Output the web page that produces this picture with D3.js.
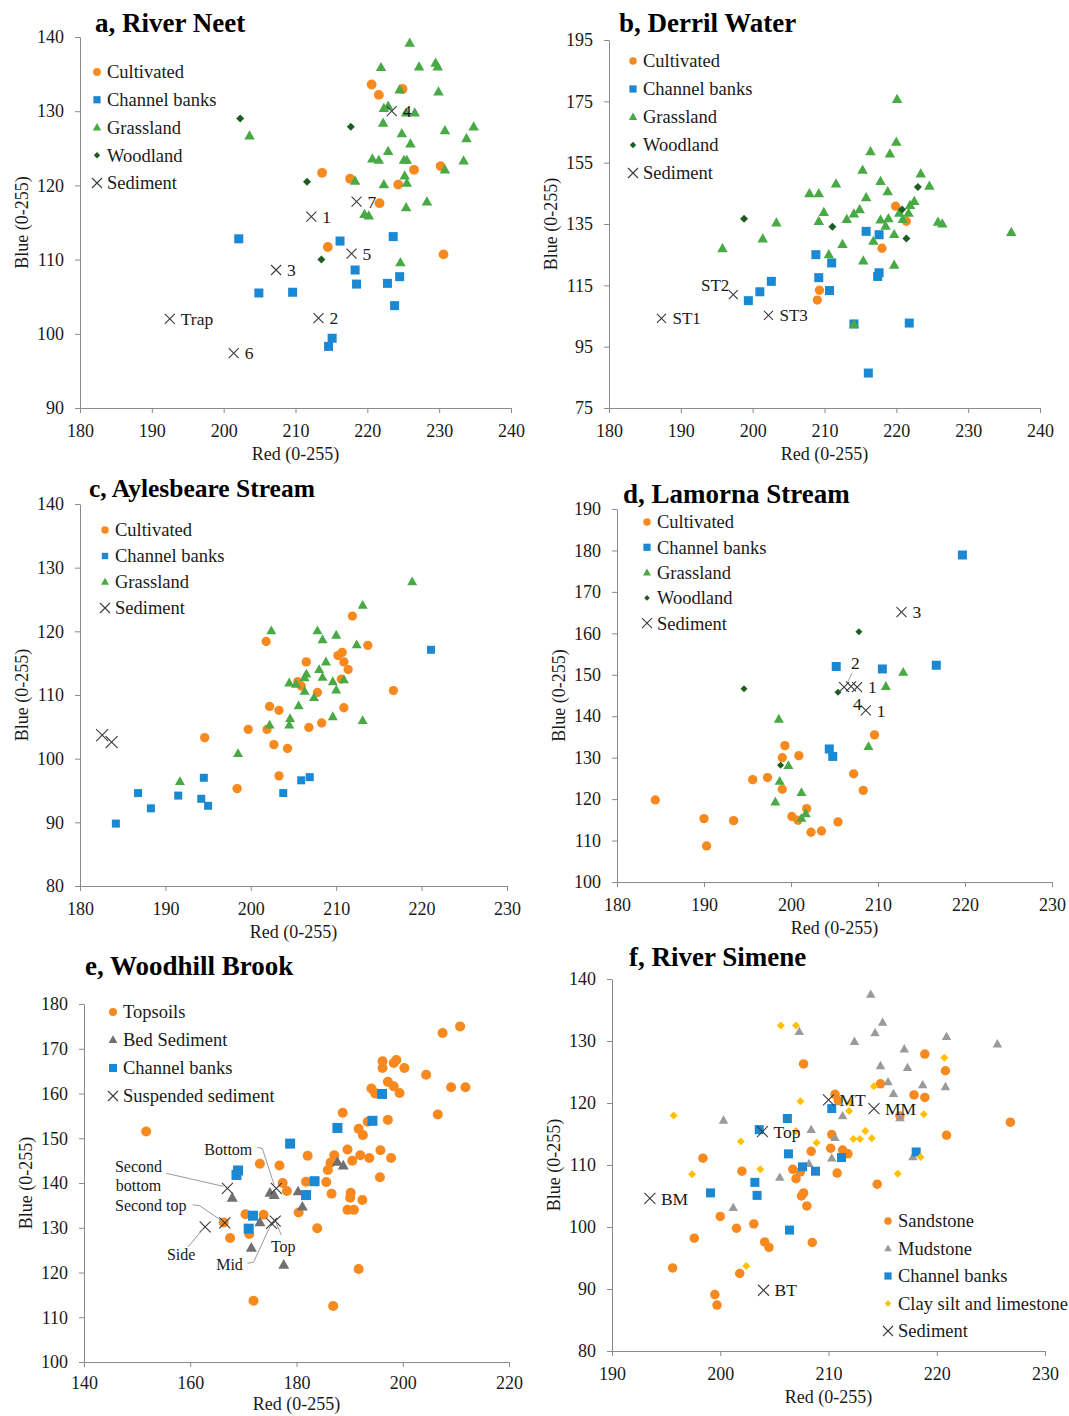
<!DOCTYPE html>
<html lang="en">
<head>
<meta charset="UTF-8">
<title>Red vs Blue colour of sources and sediment</title>
<script src="https://d3js.org/d3.v7.min.js"></script>
<style>
  body { margin: 0; background: #fff; }
  text { font-family: "Liberation Serif", "Times New Roman", serif; fill: #1a1a1a; }
  .title { font-weight: bold; font-size: 27px; fill: #000; }
  .tick text { font-size: 18px; fill: #1a1a1a; }
  .axis-title { font-size: 18px; }
  .legend text { font-size: 18.5px; }
  .lab { font-size: 17.5px; }
</style>
</head>
<body>
<div id="chart"></div>
<script>
// ---- a, River Neet : [red, blue] ----
var neetCultivated = [[220.6,133.6],[224.9,133.0],[221.6,132.2],[213.7,121.7],[217.6,120.9],[226.5,122.1],[230.2,122.6],[224.3,120.1],[221.7,117.6],[214.5,111.7],[230.6,110.7]];
var neetChannel = [[202.1,112.8],[216.2,112.5],[223.6,113.1],[218.3,108.6],[218.5,106.7],[222.8,106.8],[224.5,107.7],[204.9,105.5],[209.6,105.6],[223.8,103.8],[215.1,99.4],[214.6,98.3]];
var neetGrass = [[225.9,139.2],[221.9,135.9],[227.2,136.0],[229.5,136.5],[229.8,136.0],[224.5,132.9],[229.9,132.6],[222.3,130.4],[222.9,130.7],[225.4,129.8],[226.6,129.8],[222.2,128.4],[203.6,126.7],[224.8,127.0],[230.8,127.4],[234.8,127.9],[233.8,126.3],[226.0,125.6],[222.9,124.6],[220.7,123.6],[221.6,123.4],[225.1,123.4],[225.5,123.4],[233.4,123.3],[230.8,122.1],[225.2,121.3],[225.5,120.3],[218.3,120.6],[222.3,120.1],[228.3,117.8],[225.4,117.0],[219.6,116.1],[220.2,115.9],[224.6,109.6]];
var neetWood = [[202.3,129.0],[217.7,127.9],[211.6,120.5],[213.6,110.0]];
var neetSediment = [[223.4,130.0,"4"],[218.5,117.8,"7"],[212.2,115.8,"1"],[217.8,110.8,"5"],[207.3,108.6,"3"],[213.2,102.1,"2"],[192.5,102.0,"Trap"],[201.4,97.4,"6"]];

// ---- b, Derril Water ----
var derrilCultivated = [[219.9,140.8],[221.4,135.9],[218.0,127.1],[209.3,113.4],[209.0,110.2]];
var derrilChannel = [[215.8,132.6],[217.6,131.5],[208.8,125.0],[211.0,122.3],[209.2,117.5],[217.6,119.1],[217.4,117.9],[202.6,116.3],[201.0,112.9],[210.7,113.3],[199.4,110.0],[221.8,102.7],[214.1,102.4],[216.1,86.4]];
var derrilGrass = [[220.1,175.7],[220.0,161.7],[216.4,158.6],[219.1,157.9],[215.3,152.6],[223.4,151.4],[211.6,148.1],[224.6,147.4],[217.8,148.9],[207.9,144.9],[209.2,144.9],[218.8,145.6],[215.8,143.6],[222.5,142.4],[221.9,141.1],[214.9,139.7],[209.9,138.8],[214.1,138.3],[220.4,138.6],[221.7,138.6],[217.8,136.4],[218.9,136.8],[213.1,136.5],[209.2,135.9],[220.9,136.5],[218.5,134.3],[203.3,135.4],[225.8,135.6],[226.4,135.1],[236.0,132.3],[201.4,130.2],[216.8,129.4],[219.7,131.6],[212.5,128.4],[195.8,127.0],[210.6,125.0],[215.4,123.0],[219.7,121.6],[214.1,102.2]];
var derrilWood = [[198.8,136.7],[211.1,134.1],[220.8,139.7],[223.0,147.1],[221.4,130.3]];
var derrilSediment = [[197.3,112.0,"ST2"],[187.3,104.2,"ST1"],[202.2,105.2,"ST3"]];

// ---- c, Aylesbeare Stream ----
var aylCultivated = [[211.9,122.4],[201.8,118.4],[213.7,117.8],[210.2,116.2],[210.7,116.7],[206.5,115.2],[210.9,115.2],[211.4,114.0],[205.5,112.1],[205.9,111.4],[210.6,112.5],[207.8,110.4],[216.7,110.7],[202.2,108.2],[203.3,107.6],[210.9,108.0],[199.7,104.6],[201.9,104.6],[206.8,104.9],[208.3,105.6],[194.6,103.3],[202.7,102.2],[204.3,101.6],[203.3,97.3],[198.4,95.3]];
var aylChannel = [[221.1,117.1],[194.5,97.0],[206.9,97.1],[205.9,96.6],[186.8,94.6],[191.5,94.2],[203.8,94.6],[194.2,93.7],[195.0,92.6],[188.3,92.2],[184.2,89.8]];
var aylGrass = [[218.9,127.8],[213.1,124.1],[202.4,120.1],[207.8,120.1],[210.0,119.4],[208.4,118.7],[212.4,117.9],[208.8,115.2],[206.5,113.3],[208.0,114.0],[206.3,112.7],[208.4,112.8],[210.9,112.4],[204.5,111.9],[205.3,111.7],[209.6,112.1],[206.3,110.6],[210.0,110.8],[207.4,109.6],[205.6,108.3],[204.6,106.3],[204.5,105.3],[202.2,105.3],[209.6,106.6],[213.1,106.0],[198.5,100.8],[191.7,96.4]];
var aylSediment = [[182.6,103.7,""],[183.7,102.6,""]];

// ---- d, Lamorna Stream ----
var lamCultivated = [[184.4,119.8],[190.0,115.3],[193.4,114.8],[190.3,108.7],[195.6,124.7],[197.3,125.2],[199.3,132.9],[199.0,130.0],[200.9,130.5],[199.0,122.4],[201.8,117.7],[200.1,115.8],[200.8,114.9],[202.3,112.0],[203.5,112.3],[205.4,114.5],[207.2,126.1],[208.3,122.1],[209.6,135.5]];
var lamChannel = [[219.7,178.9],[205.2,152.0],[210.5,151.4],[216.7,152.3],[204.4,132.1],[204.8,130.3]];
var lamGrass = [[212.9,150.6],[210.9,147.2],[198.6,139.3],[208.9,132.7],[199.7,128.1],[198.7,124.3],[201.2,121.6],[198.2,119.3],[201.7,116.5],[201.2,115.4]];
var lamWood = [[207.8,160.4],[194.6,146.6],[205.4,145.8],[198.8,128.2]];
var lamSediment = [[212.7,165.1,"3"],[206.1,147.0,"4"],[206.9,147.2,"2"],[207.6,147.0,"1"],[208.6,141.4,"1"]];

// ---- e, Woodhill Brook ----
var woodTopsoil = [[210.8,175.0],[207.5,173.5],[196.2,167.2],[196.2,165.7],[198.3,166.8],[198.8,167.5],[200.3,165.7],[204.4,164.2],[197.2,162.6],[198.3,161.6],[199.4,160.1],[194.1,161.1],[194.8,160.0],[209.1,161.4],[211.8,161.4],[206.6,155.3],[188.7,155.7],[193.4,153.7],[197.2,154.1],[191.7,152.1],[192.5,150.7],[151.7,151.5],[189.6,147.5],[195.8,147.3],[197.8,145.6],[192.0,146.2],[193.7,145.6],[190.5,145.0],[182.1,146.1],[187.1,146.2],[186.4,144.5],[185.9,142.9],[173.1,144.3],[176.8,143.9],[195.7,141.3],[185.6,140.2],[181.8,140.3],[177.4,140.0],[178.2,138.2],[186.6,137.6],[190.2,137.8],[190.1,136.7],[192.4,136.2],[189.6,134.0],[190.8,134.0],[180.4,133.4],[170.4,133.0],[173.8,132.9],[183.9,129.9],[171.1,128.6],[167.5,127.7],[166.3,131.2],[191.7,120.8],[171.9,113.7],[186.9,112.5]];
var woodBed = [[187.7,144.7],[188.8,143.9],[167.9,136.7],[175.0,137.8],[175.8,137.3],[180.3,138.1],[181.1,134.7],[173.1,131.2],[171.5,125.5],[177.6,121.7]];
var woodChannel = [[196.1,159.9],[194.3,153.9],[187.7,152.3],[178.8,148.8],[183.4,140.4],[181.8,137.3],[169.0,142.8],[168.7,141.8],[171.8,132.7],[171.0,129.8]];
var woodSuspended = [[167.0,138.8,"Second bottom"],[176.2,138.8,"Bottom"],[166.5,131.1,"Second top"],[162.8,130.2,"Side"],[176.0,131.5,"Top"],[175.3,131.0,"Mid"]];

// ---- f, River Simene ----
var simSandstone = [[218.9,127.9],[207.7,126.3],[220.8,125.2],[214.8,123.1],[217.9,121.3],[218.9,120.9],[210.6,121.4],[210.9,120.4],[216.6,117.9],[226.8,116.9],[220.9,114.8],[210.3,114.9],[210.2,112.7],[208.4,112.2],[211.3,112.4],[211.8,111.8],[198.4,111.1],[202.0,109.0],[206.7,109.3],[207.4,108.9],[207.0,107.8],[210.8,108.7],[214.5,106.9],[207.7,105.5],[207.5,105.0],[208.0,103.4],[200.0,101.7],[201.5,99.8],[203.1,100.5],[197.6,98.2],[204.1,97.6],[204.5,96.7],[208.5,97.5],[195.6,93.4],[201.8,92.5],[199.5,89.1],[199.7,87.4]];
var simMudstone = [[213.9,137.5],[215.0,133.0],[207.3,131.5],[214.3,131.3],[220.9,130.7],[212.4,129.9],[225.6,129.5],[217.0,128.7],[214.8,126.0],[217.3,125.7],[215.5,123.4],[218.7,122.9],[220.8,122.6],[216.0,121.5],[211.3,117.9],[216.6,117.6],[200.3,117.2],[208.4,115.7],[210.6,114.4],[210.3,111.1],[217.8,111.3],[208.2,110.2],[205.5,108.0],[201.2,103.1]];
var simChannel = [[206.2,117.5],[203.6,115.7],[206.3,111.8],[211.2,111.2],[210.3,119.1],[218.1,112.1],[207.6,109.7],[208.8,109.0],[203.2,107.2],[199.1,105.5],[203.4,105.1],[206.4,99.5]];
var simClay = [[205.6,132.5],[207.0,132.5],[220.7,127.3],[214.2,122.7],[207.4,120.3],[212.0,120.1],[211.9,118.7],[195.7,118.0],[218.8,118.2],[207.0,115.5],[213.4,115.5],[201.9,113.8],[208.9,113.6],[212.3,114.2],[212.9,114.2],[214.0,114.3],[218.5,111.3],[203.7,109.3],[197.4,108.5],[216.4,108.6],[202.4,93.7]];
var simSediment = [[210.0,120.5,"MT"],[214.2,119.1,"MM"],[203.9,115.4,"Top"],[193.5,104.6,"BM"],[204.0,89.8,"BT"]];

var ORANGE = "#f7891f", BLUE = "#1a88d3", GREEN = "#47aa44", DKGREEN = "#1d5d21",
    GREY = "#707070", LTGREY = "#9a9a9a", YELLOW = "#ffc000", CROSS = "#3a3a3a";

var svg = d3.select("#chart").append("svg")
  .attr("width", 1069).attr("height", 1416)
  .style("background", "#fff");

function marker(sel, type, color, s) {
  var h = s / 2;
  if (type === "circle") {
    sel.append("circle").attr("r", h).attr("fill", color);
  } else if (type === "square") {
    sel.append("rect").attr("x", -h).attr("y", -h).attr("width", s).attr("height", s).attr("fill", color);
  } else if (type === "triangle") {
    var th = s * 0.88;
    sel.append("path").attr("d", "M0," + (-th * 0.6) + "L" + h + "," + (th * 0.4) + "L" + (-h) + "," + (th * 0.4) + "Z").attr("fill", color);
  } else if (type === "diamond") {
    sel.append("path").attr("d", "M0," + (-h) + "L" + h + ",0L0," + h + "L" + (-h) + ",0Z").attr("fill", color);
  } else if (type === "cross") {
    sel.append("path")
      .attr("d", "M" + (-h) + "," + (-h) + "L" + h + "," + h + "M" + (-h) + "," + h + "L" + h + "," + (-h))
      .attr("stroke", CROSS).attr("stroke-width", 1.1).attr("fill", "none");
  }
}

function drawPanel(p) {
  var x = d3.scaleLinear().domain(p.xDomain).range([p.left, p.right]);
  var y = d3.scaleLinear().domain(p.yDomain).range([p.bottom, p.top]);
  var g = svg.append("g");

  g.append("text").attr("class", "title")
    .attr("x", p.titleX).attr("y", p.titleY)
    .style("font-size", (p.titleSize || 27) + "px")
    .text(p.title);

  var xAxis = g.append("g")
    .attr("transform", "translate(0," + p.bottom + ")")
    .call(d3.axisBottom(x).tickValues(d3.range(p.xDomain[0], p.xDomain[1] + 1, p.xStep))
      .tickSize(5).tickSizeOuter(0).tickFormat(d3.format("d")));
  xAxis.selectAll("text").attr("y", p.xTickGap || 23).attr("dy", "0.35em");

  g.append("g")
    .attr("transform", "translate(" + p.left + ",0)")
    .call(d3.axisLeft(y).tickValues(d3.range(p.yDomain[0], p.yDomain[1] + 1, p.yStep))
      .tickSize(5).tickSizeOuter(0).tickPadding(11).tickFormat(d3.format("d")));

  g.selectAll(".domain, .tick line").attr("stroke", "#8a8a8a");

  g.append("text").attr("class", "axis-title")
    .attr("x", (p.left + p.right) / 2).attr("y", p.bottom + (p.xTitleGap || 46)).attr("dy", "0.35em")
    .attr("text-anchor", "middle").text("Red (0-255)");
  g.append("text").attr("class", "axis-title")
    .attr("transform", "translate(" + (p.left - 58) + "," + ((p.top + p.bottom) / 2) + ") rotate(-90)")
    .attr("text-anchor", "middle").attr("dy", "0.35em").text("Blue (0-255)");

  // points, series drawn in legend order
  p.series.forEach(function (s) {
    g.append("g").selectAll("g").data(s.data).join("g")
      .attr("transform", function (d) { return "translate(" + x(d[0]) + "," + y(d[1]) + ")"; })
      .each(function () { marker(d3.select(this), s.type, s.color, s.size); });
  });

  // sediment labels
  var labs = p.series[p.series.length - 1].data;
  labs.forEach(function (d, i) {
    if (!d[2]) return;
    var px = x(d[0]), py = y(d[1]);
    var o = (p.labelPos && p.labelPos[i]) || { dx: 11, dy: 0, anchor: "start" };
    if (o.leader) {
      g.append("path")
        .attr("d", d3.line()(o.leader.map(function (q) { return [px + q[0], py + q[1]]; })))
        .attr("fill", "none").attr("stroke", "#9a9a9a").attr("stroke-width", 1);
    }
    var lines = o.lines || [d[2]];
    lines.forEach(function (t, k) {
      g.append("text").attr("class", "lab")
        .style("font-size", (p.labelSize || 17.5) + "px")
        .attr("x", px + o.dx).attr("y", py + (o.dys ? o.dys[k] : o.dy))
        .attr("dy", "0.35em").attr("text-anchor", o.anchor || "start")
        .text(t);
    });
  });

  // legend
  var lg = g.append("g").attr("class", "legend");
  p.series.forEach(function (s, i) {
    var row = lg.append("g").attr("transform", "translate(" + p.legend.x + "," + (p.legend.y + i * p.legend.step) + ")");
    marker(row, s.type, s.color, s.type === "cross" ? 10 : s.size * 0.8);
    row.append("text").attr("x", 10).attr("dy", "0.35em").text(s.name);
  });
}

var panels = [
  { title: "a, River Neet", titleX: 95, titleY: 32,
    left: 80, right: 511, top: 37, bottom: 408,
    xDomain: [180, 240], xStep: 10, yDomain: [90, 140], yStep: 10,
    legend: { x: 97, y: 72, step: 27.75 },
    series: [
      { name: "Cultivated", data: neetCultivated, type: "circle", color: ORANGE, size: 9.8 },
      { name: "Channel banks", data: neetChannel, type: "square", color: BLUE, size: 9 },
      { name: "Grassland", data: neetGrass, type: "triangle", color: GREEN, size: 10.5 },
      { name: "Woodland", data: neetWood, type: "diamond", color: DKGREEN, size: 8 },
      { name: "Sediment", data: neetSediment, type: "cross", color: CROSS, size: 10 }
    ] },
  { title: "b, Derril Water", titleX: 619, titleY: 32,
    left: 609, right: 1040, top: 40, bottom: 408,
    xDomain: [180, 240], xStep: 10, yDomain: [75, 195], yStep: 20,
    legend: { x: 633, y: 61, step: 28 },
    labelSize: 17,
    labelPos: { 0: { dx: -4, dy: -9, anchor: "end" } },
    series: [
      { name: "Cultivated", data: derrilCultivated, type: "circle", color: ORANGE, size: 9.3 },
      { name: "Channel banks", data: derrilChannel, type: "square", color: BLUE, size: 9 },
      { name: "Grassland", data: derrilGrass, type: "triangle", color: GREEN, size: 10.5 },
      { name: "Woodland", data: derrilWood, type: "diamond", color: DKGREEN, size: 8 },
      { name: "Sediment", data: derrilSediment, type: "cross", color: CROSS, size: 9 }
    ] },
  { title: "c, Aylesbeare Stream", titleX: 89, titleY: 497, titleSize: 25.5,
    left: 80, right: 507, top: 504, bottom: 886,
    xDomain: [180, 230], xStep: 10, yDomain: [80, 140], yStep: 10,
    legend: { x: 105, y: 530, step: 26 },
    series: [
      { name: "Cultivated", data: aylCultivated, type: "circle", color: ORANGE, size: 9.3 },
      { name: "Channel banks", data: aylChannel, type: "square", color: BLUE, size: 8 },
      { name: "Grassland", data: aylGrass, type: "triangle", color: GREEN, size: 10 },
      { name: "Sediment", data: aylSediment, type: "cross", color: CROSS, size: 12 }
    ] },
  { title: "d, Lamorna Stream", titleX: 623, titleY: 503,
    left: 617, right: 1052, top: 509, bottom: 882,
    xDomain: [180, 230], xStep: 10, yDomain: [100, 190], yStep: 10,
    legend: { x: 647, y: 522, step: 25.3 },
    labelPos: {
      1: { dx: 9, dy: 17, anchor: "start" },
      2: { dx: 0, dy: -24, anchor: "start", leader: [[1, -13], [-3, -5]] }
    },
    series: [
      { name: "Cultivated", data: lamCultivated, type: "circle", color: ORANGE, size: 9.3 },
      { name: "Channel banks", data: lamChannel, type: "square", color: BLUE, size: 9 },
      { name: "Grassland", data: lamGrass, type: "triangle", color: GREEN, size: 10 },
      { name: "Woodland", data: lamWood, type: "diamond", color: DKGREEN, size: 7 },
      { name: "Sediment", data: lamSediment, type: "cross", color: CROSS, size: 10 }
    ] },
  { title: "e, Woodhill Brook", titleX: 85, titleY: 975,
    left: 84, right: 509, top: 1004, bottom: 1362, xTickGap: 21, xTitleGap: 42,
    xDomain: [140, 220], xStep: 20, yDomain: [100, 180], yStep: 10,
    legend: { x: 113, y: 1012, step: 28 },
    labelSize: 16,
    labelPos: {
      0: { dx: -89, dys: [-22, -3], lines: ["Second", "bottom"], anchor: "middle", leader: [[-61, -15], [-4, -2]] },
      1: { dx: -48, dy: -39, anchor: "middle", leader: [[-19, -41], [-14, -40], [-2, -3]] },
      2: { dx: -74, dy: -17, anchor: "middle", leader: [[-32, -18], [-25, -17], [-3, -2]] },
      3: { dx: -24, dy: 28, anchor: "middle", leader: [[-17, 20], [-2, 2]] },
      4: { dx: 8, dy: 25, anchor: "middle", leader: [[6, 14], [1, 2]] },
      5: { dx: -42, dy: 41, anchor: "middle", leader: [[-24, 40], [-18, 39], [-1, 2]] }
    },
    series: [
      { name: "Topsoils", data: woodTopsoil, type: "circle", color: ORANGE, size: 10 },
      { name: "Bed Sediment", data: woodBed, type: "triangle", color: GREY, size: 11 },
      { name: "Channel banks", data: woodChannel, type: "square", color: BLUE, size: 10 },
      { name: "Suspended sediment", data: woodSuspended, type: "cross", color: CROSS, size: 11 }
    ] },
  { title: "f, River Simene", titleX: 629, titleY: 966,
    left: 612, right: 1045, top: 979, bottom: 1351,
    xDomain: [190, 230], xStep: 10, yDomain: [80, 140], yStep: 10,
    legend: { x: 888, y: 1221, step: 27.5 },
    series: [
      { name: "Sandstone", data: simSandstone, type: "circle", color: ORANGE, size: 9.5 },
      { name: "Mudstone", data: simMudstone, type: "triangle", color: LTGREY, size: 9.5 },
      { name: "Channel banks", data: simChannel, type: "square", color: BLUE, size: 9 },
      { name: "Clay silt and limestone", data: simClay, type: "diamond", color: YELLOW, size: 8 },
      { name: "Sediment", data: simSediment, type: "cross", color: CROSS, size: 11 }
    ] }
];

panels.forEach(drawPanel);
</script>
</body>
</html>
